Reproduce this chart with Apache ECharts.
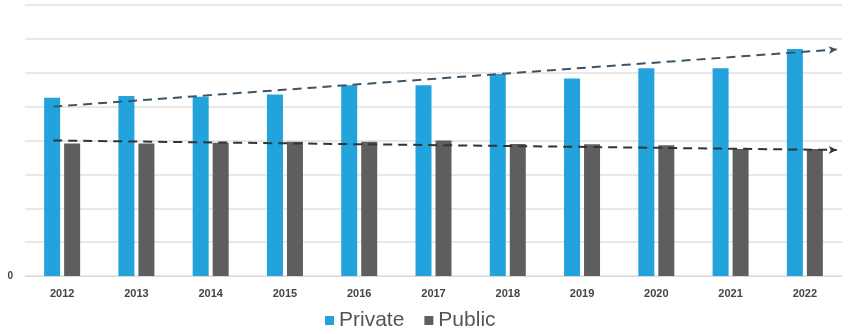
<!DOCTYPE html>
<html>
<head>
<meta charset="utf-8">
<script src="https://cdn.jsdelivr.net/npm/echarts@6/dist/echarts.min.js"></script>
<style>
  html, body { margin: 0; padding: 0; background: #fff; }
  #chart { width: 848px; height: 334px; }
</style>
</head>
<body>
<div id="chart"></div>
<script>
// Years on the category axis
const years = ['2012','2013','2014','2015','2016','2017','2018','2019','2020','2021','2022'];

// Bar values (relative units)
const privateValues = [5.26, 5.31, 5.29, 5.36, 5.63, 5.63, 5.96, 5.83, 6.13, 6.13, 6.70];
const publicValues  = [3.91, 3.91, 3.93, 3.96, 3.96, 4.00, 3.90, 3.89, 3.86, 3.75, 3.75];

// Trend arrows: [position along the years, value] at start and end
const privateTrend = [[-0.12, 5.00], [10.43, 6.69]];
const publicTrend  = [[-0.12, 4.00], [10.43, 3.72]];

// Value-axis ticks
const yMin = 0, yMax = 8, yStep = 1;

const chart = echarts.init(document.getElementById('chart'));

function trendSeries(pts, color) {
  return {
    type: 'line',
    xAxisIndex: 1,
    data: [],
    silent: true,
    z: 5,
    markLine: {
      silent: true,
      symbol: ['none', 'arrow'],
      symbolSize: [6, 8],
      label: { show: false },
      lineStyle: { color: color, width: 2, type: [9, 6] },
      data: [[{ coord: pts[0] }, { coord: pts[1] }]]
    }
  };
}

chart.setOption({
  animation: false,
  grid: { left: 25, right: 6, top: 5, bottom: 58 },
  legend: {
    bottom: -2,
    left: 320,
    itemWidth: 9,
    itemHeight: 9,
    itemGap: 20,
    icon: 'rect',
    textStyle: { fontFamily: 'Liberation Sans, Arial', fontSize: 21, color: '#555' },
    data: ['Private', 'Public']
  },
  xAxis: [{
    type: 'category',
    data: years,
    axisLine: { lineStyle: { color: '#d9d9d9', width: 1 } },
    axisTick: { show: false },
    axisLabel: { fontFamily: 'Liberation Sans, Arial', fontWeight: 'bold', fontSize: 11, color: '#444', margin: 12 }
  }, {
    type: 'value',
    min: -0.5,
    max: 10.5,
    show: false
  }],
  yAxis: {
    type: 'value',
    min: yMin,
    max: yMax,
    interval: yStep,
    axisLine: { show: false },
    axisTick: { show: false },
    splitLine: { lineStyle: { color: '#e0e0e0', width: 1.5 } },
    axisLabel: {
      margin: 12,
      fontFamily: 'Liberation Sans, Arial', fontWeight: 'bold', fontSize: 10, color: '#444',
      formatter: v => (v === 0 ? '0' : '')
    }
  },
  series: [
    {
      name: 'Private', type: 'bar', data: privateValues,
      barWidth: 16, barGap: '25%',
      itemStyle: { color: '#22a3dc' }
    },
    {
      name: 'Public', type: 'bar', data: publicValues,
      barWidth: 16,
      itemStyle: { color: '#5e5e5e' }
    },
    trendSeries(privateTrend, '#3b5566'),
    trendSeries(publicTrend, '#333333')
  ]
});
</script>
</body>
</html>
